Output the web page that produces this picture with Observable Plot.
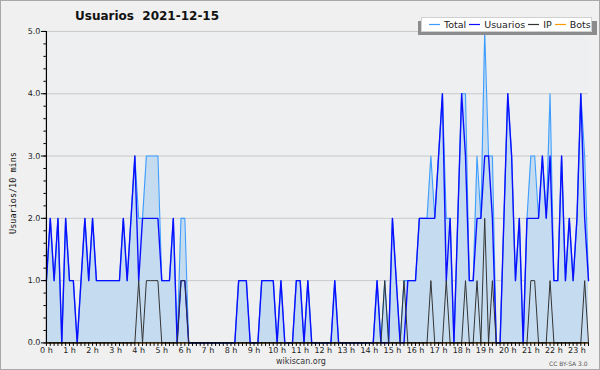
<!DOCTYPE html>
<html><head><meta charset="utf-8">
<script src="https://cdn.jsdelivr.net/npm/d3@7"></script>
<script src="https://cdn.jsdelivr.net/npm/@observablehq/plot@0.6"></script>
<style>
html,body{margin:0;padding:0;background:#f0f0f0;}
#wrap{position:relative;width:600px;height:370px;box-sizing:border-box;border:1px solid #a8a8a8;overflow:hidden;background:#f0f0f0;font-family:"DejaVu Sans",sans-serif;}
#chart{position:absolute;left:-1px;top:-1px;}
#title{position:absolute;left:74px;top:8px;font-weight:bold;font-size:12px;color:#111;white-space:pre;}
#ylab{position:absolute;left:12px;top:192px;transform:translate(-50%,-50%) rotate(-90deg);font-family:"DejaVu Sans Mono",monospace;font-size:8.5px;color:#111;white-space:nowrap;}
#lgshadow{position:absolute;left:417px;top:20px;width:179px;height:14px;background:#8c8c8c;}
#legend{position:absolute;left:420px;top:16px;width:171px;height:15px;box-sizing:border-box;background:#fff;border:1px solid #d0d0d0;display:flex;align-items:center;font-size:9.5px;color:#222;padding:0 0 0 7px;white-space:nowrap;}
#legend .it{display:flex;align-items:center;margin-right:3px;}
#legend svg{margin-right:4px;}
#foot{position:absolute;left:0;width:600px;top:356px;text-align:center;font-size:8px;color:#333;}
#cc{position:absolute;left:548px;top:359px;font-size:6px;color:#555;white-space:nowrap;}
</style></head>
<body>
<div id="wrap">
  <div id="chart"></div>
  <div id="title"></div>
  <div id="ylab"></div>
  <div id="lgshadow"></div>
  <div id="legend"></div>
  <div id="foot"></div>
  <div id="cc"></div>
</div>
<script>
// 10-minute slots, 00:00 .. 23:30
const titleText = "Usuarios  2021-12-15";
const yLabel = "Usuarios/10 mins";
const seriesNames = ["Total", "Usuarios", "IP", "Bots"];
const seriesColors = ["#3c9dff", "#0a10ff", "#333333", "#ff9900"];
const yTickValues = [0, 1, 2, 3, 4, 5];
const hourLabels = ["0 h","1 h","2 h","3 h","4 h","5 h","6 h","7 h","8 h","9 h","10 h","11 h","12 h","13 h","14 h","15 h","16 h","17 h","18 h","19 h","20 h","21 h","22 h","23 h"];

const usuarios = [
  1,2,1,2,0,2, 1,1,0,1,2,1, 2,1,1,1,1,1, 1,1,2,1,2,3,
  1,2,2,2,2,2, 1,1,1,2,0,1, 1,0,0,0,0,0, 0,0,0,0,0,0,
  0,0,1,1,1,0, 0,0,1,1,1,1, 0,1,0,0,0,1, 1,0,1,0,0,0,
  0,0,0,1,0,0, 0,0,0,0,0,0, 0,0,1,0,0,0, 2,1,0,0,1,1,
  1,2,2,2,2,2, 3,4,1,2,0,2, 4,3,1,1,2,2, 3,3,2,0,0,2,
  4,3,1,2,0,2, 2,2,2,3,2,3, 1,1,3,1,2,1, 2,4,2,1
];
const total = [
  1,2,1,2,0,2, 1,1,0,1,2,1, 2,1,1,1,1,1, 1,1,2,1,2,3,
  2,2,3,3,3,3, 1,1,1,2,0,2, 2,0,0,0,0,0, 0,0,0,0,0,0,
  0,0,1,1,1,0, 0,0,1,1,1,1, 0,1,0,0,0,1, 1,0,1,0,0,0,
  0,0,0,1,0,0, 0,0,0,0,0,0, 0,0,1,0,1,0, 2,1,0,1,1,1,
  1,2,2,2,3,2, 3,4,2,2,0,2, 4,4,1,1,3,2, 5,3,3,0,0,2,
  4,3,1,2,0,2, 3,3,2,3,2,4, 1,1,3,1,2,1, 2,4,3,1
];
const ip = [
  0,0,0,0,0,0, 0,0,0,0,0,0, 0,0,0,0,0,0, 0,0,0,0,0,0,
  1,0,1,1,1,1, 0,0,0,0,0,1, 1,0,0,0,0,0, 0,0,0,0,0,0,
  0,0,0,0,0,0, 0,0,0,0,0,0, 0,0,0,0,0,0, 0,0,0,0,0,0,
  0,0,0,0,0,0, 0,0,0,0,0,0, 0,0,0,0,1,0, 0,0,0,1,0,0,
  0,0,0,0,1,0, 0,0,1,0,0,0, 0,1,0,0,1,0, 2,0,1,0,0,0,
  0,0,0,0,0,0, 1,1,0,0,0,1, 0,0,0,0,0,0, 0,0,1,0
];
const bots = [
  0,0,0,0,0,0, 0,0,0,0,0,0, 0,0,0,0,0,0, 0,0,0,0,0,0,
  0,0,0,0,0,0, 0,0,0,0,0,0, 0,0,0,0,0,0, 0,0,0,0,0,0,
  0,0,0,0,0,0, 0,0,0,0,0,0, 0,0,0,0,0,0, 0,0,0,0,0,0,
  0,0,0,0,0,0, 0,0,0,0,0,0, 0,0,0,0,0,0, 0,0,0,0,0,0,
  0,0,0,0,0,0, 0,0,0,0,0,0, 0,0,0,0,0,0, 0,0,0,0,0,0,
  0,0,0,0,0,0, 0,0,0,0,0,0, 0,0,0,0,0,0, 0,0,0,0
];

const data = usuarios.map((u, i) => ({slot: i, usuarios: u, total: total[i], ip: ip[i], bots: bots[i]}));
const slots = data.map(d => d.slot);
const hourSlots = hourLabels.map((_, h) => h * 6);
const minorY = d3.range(0, 26).map(k => k / 5);

const chart = Plot.plot({
  width: 600, height: 370,
  marginLeft: 46, marginRight: 11, marginTop: 31, marginBottom: 27,
  x: {domain: [0, slots.length - 1], label: null},
  y: {domain: [0, 5], label: null},
  style: {background: "transparent", fontFamily: "DejaVu Sans", fontSize: "8px", color: "#222"},
  marks: [
    Plot.frame({fill: "#eeeff1", stroke: null}),
    Plot.gridY(yTickValues.slice(1), {stroke: "#c9c9c9", strokeOpacity: 1}),
    Plot.areaY(data, {x: "slot", y: "total", fill: "#c5dcf0", fillOpacity: 1}),
    Plot.lineY(data, {x: "slot", y: "bots", stroke: seriesColors[3], strokeWidth: 1}),
    Plot.lineY(data, {x: "slot", y: "total", stroke: seriesColors[0], strokeWidth: 1.1}),
    Plot.lineY(data, {x: "slot", y: "usuarios", stroke: seriesColors[1], strokeWidth: 1.4}),
    Plot.lineY(data, {x: "slot", y: "ip", stroke: seriesColors[2], strokeWidth: 1}),
    Plot.axisY({ticks: minorY, tickSize: 2.5, tickFormat: () => "", stroke: "#000", label: null}),
    Plot.axisY({ticks: yTickValues, tickSize: 5, tickPadding: 1, tickFormat: d => d.toFixed(1), stroke: "#000", label: null}),
    Plot.ruleX([0], {stroke: "#000", strokeWidth: 1.2}),
    Plot.ruleY([0], {stroke: "#000", strokeWidth: 1.2}),
    Plot.axisX({ticks: slots, tickSize: 3.5, tickFormat: () => "", stroke: "#000", label: null}),
    Plot.axisX({ticks: hourSlots, tickSize: 0, tickPadding: 4, tickFormat: s => hourLabels[s / 6], stroke: "#000", label: null})
  ]
});
document.getElementById("chart").append(chart);

document.getElementById("title").textContent = titleText;
document.getElementById("ylab").textContent = yLabel;
document.getElementById("foot").textContent = "wikiscan.org";
document.getElementById("cc").textContent = "CC BY-SA 3.0";
const lg = document.getElementById("legend");
const NS = "http://www.w3.org/2000/svg";
seriesNames.forEach((n, k) => {
  const it = document.createElement("span"); it.className = "it";
  const sv = document.createElementNS(NS, "svg");
  sv.setAttribute("width", "11"); sv.setAttribute("height", "3");
  const ln = document.createElementNS(NS, "line");
  ln.setAttribute("x1", "0"); ln.setAttribute("x2", "11");
  ln.setAttribute("y1", "1.5"); ln.setAttribute("y2", "1.5");
  ln.setAttribute("stroke", seriesColors[k]); ln.setAttribute("stroke-width", "1.2");
  sv.append(ln);
  const tx = document.createElement("span"); tx.textContent = n;
  it.append(sv, tx); lg.append(it);
});
</script>
</body></html>
